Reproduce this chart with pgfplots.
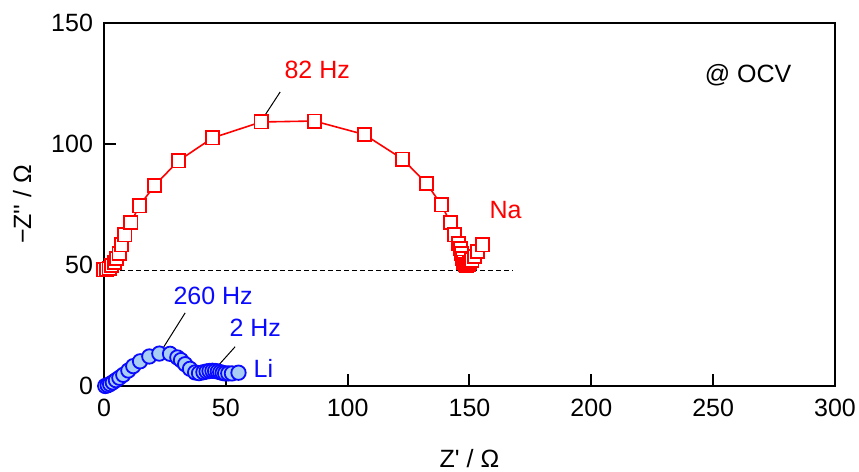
\documentclass[border=0pt]{standalone}
\usepackage{fontspec}
\setmainfont{Liberation Sans}[Ligatures=TeXOff]
\usepackage{pgfplots}
\pgfplotsset{compat=1.18}
\definecolor{naRed}{RGB}{255,0,0}
\definecolor{liBlue}{RGB}{10,10,255}
\definecolor{liFill}{RGB}{168,206,246}
\newcommand{\fs}{\fontsize{12.5}{14}\selectfont}
\begin{document}
\begin{tikzpicture}
\useasboundingbox (-52pt,-43pt) rectangle (377.5pt,193pt);
\begin{axis}[
 at={(0,0)}, anchor=south west,
 scale only axis, width=365.5pt, height=181.5pt,
 xmin=0,xmax=300,ymin=0,ymax=150,
 xtick={0,50,...,300}, ytick={0,50,100,150},
 tick align=inside, xtick pos=left, ytick pos=left,
 major tick length=6pt,
 axis line style={line width=1pt},
 every tick/.style={black,line width=1pt},
 tick label style={font=\fs},
 xticklabel style={yshift=-3pt},
 yticklabel style={xshift=-2pt},
 label style={font=\fs},
 /pgf/number format/assume math mode=true,
 xlabel={Z' / Ω}, ylabel={−Z'' / Ω},
 x label style={at={(axis description cs:0.5,-0.2)},anchor=center},
 y label style={at={(axis description cs:-0.112,0.5)},anchor=center},
 axis on top,
]
\addplot[black, line width=0.6pt, dash pattern=on 2.5pt off 1.5pt] coordinates {(0,47.8) (168,47.8)};
\addplot[naRed, line width=0.8pt, mark=square*, mark size=3.3pt, mark options={solid, fill=white, draw=naRed, line width=0.9pt}] coordinates {
(0,48) (1,48.3) (2.1,48.6) (3.2,49.7) (4.2,51.1) (5.2,52.8) (6.2,54.8) (7.3,58.3) (8.6,62.4) (11.0,67.5) (14.5,74.4) (20.7,82.8) (30.5,93.0) (44.5,102.5) (64.5,109.1) (86.3,109.5) (106.9,103.9) (122.5,93.8) (132.3,83.8) (138.5,74.8) (142.2,67.5) (143.9,62.4) (145.6,58.7) (146.3,56.9) (146.7,54.8) (147.3,52.8) (147.7,51.2) (148.2,50.3) (148.8,50) (149.5,50.3) (150.2,51) (151,52) (152,53.5) (153.3,55.5) (155.3,58.3)
};
\addplot[liBlue, line width=0.75pt, mark=*, mark size=3.6pt, mark options={solid, fill=liFill, draw=liBlue, line width=0.9pt}] coordinates {
(0.5,0) (1.5,0.3) (2.5,0.8) (3.6,1.5) (4.9,2.4) (6.3,3.4) (7.9,4.6) (10.0,6.4) (12.0,8.2) (14.8,10.2) (18.6,12.2) (22.7,13.4) (27.1,13.3) (30.1,11.8) (31.6,10.7) (33.3,9.0) (35.3,7.1) (37.4,5.6) (39,5.3) (40.8,5.7) (42.1,6.0) (43.3,6.2) (44.5,6.3) (45.6,6.2) (46.7,6.0) (47.7,5.7) (48.7,5.4) (49.7,5.2) (51,5.2) (52.5,5.2) (55.2,5.5)
};
\node[font=\fs, text=naRed] at (axis cs:87.5,130.6) {82 Hz};
\draw[line width=0.5pt] (axis cs:72.3,121.5) -- (axis cs:65.3,110.7);
\node[font=\fs, text=liBlue] at (axis cs:44.8,37.2) {260 Hz};
\draw[line width=0.5pt] (axis cs:33.3,30.2) -- (axis cs:23.5,14.5);
\node[font=\fs, text=liBlue] at (axis cs:62.1,24) {2 Hz};
\draw[line width=0.5pt] (axis cs:53.8,16.2) -- (axis cs:45.6,7.0);
\node[font=\fs, text=liBlue] at (axis cs:65.4,7.4) {Li};
\node[font=\fs, text=naRed] at (axis cs:164.8,72.7) {Na};
\node[font=\fs, text=black] at (axis cs:264.3,128.5) {@ OCV};
\end{axis}
\end{tikzpicture}
\end{document}
